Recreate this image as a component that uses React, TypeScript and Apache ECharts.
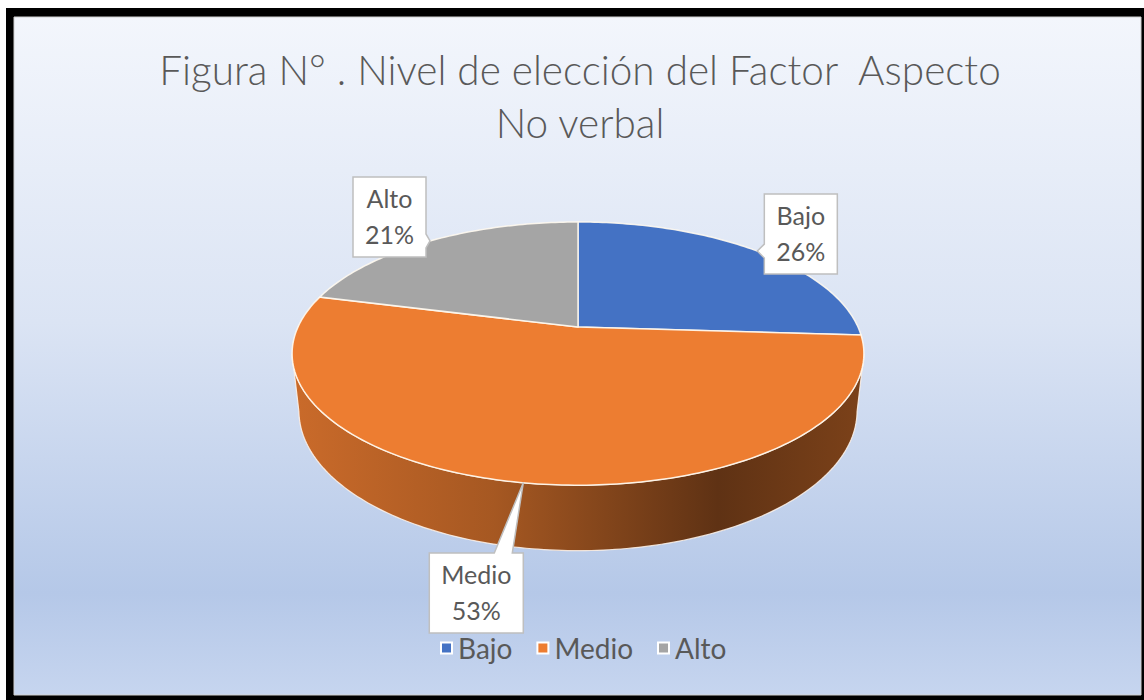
import React, { useEffect, useRef } from "react";
import * as echarts from "echarts";

// ---------- data ----------
const categories = ["Bajo", "Medio", "Alto"];
const percentages = [26, 53, 21];
const sliceColors = ["#4472C4", "#ED7D31", "#A5A5A5"];
const titleLines = ["Figura N° . Nivel de elección del Factor  Aspecto", "No verbal"];

// ---------- 3D pie geometry (layout) ----------
const CX = 578;
const CY = 327;
const HALF_WIDTH = 280; // px of radius at centre depth
const DIST = 4.42; // camera distance in radius units
const TILT = (26.8 * Math.PI) / 180;
const THICK = 0.23; // pie thickness in radius units
const FONT = "Lato, 'Open Sans', sans-serif";
const TEXT_COLOR = "#595959";
const LABEL_SIZE = 25;

function project(thetaDeg: number, y: number): [number, number] {
  const t = (thetaDeg * Math.PI) / 180;
  const X = Math.sin(t);
  const Z = Math.cos(t);
  const ca = Math.cos(TILT);
  const sa = Math.sin(TILT);
  const yc = y * ca + Z * sa;
  const zc = -y * sa + Z * ca + DIST;
  const k = HALF_WIDTH * DIST;
  return [CX + (k * X) / zc, CY - (k * yc) / zc];
}

function silhouette(): [number, number] {
  let maxX = -Infinity;
  let minX = Infinity;
  let s1 = 90;
  let s2 = 270;
  for (let t = 0; t <= 360; t += 0.25) {
    const [x] = project(t, 0);
    if (x > maxX) {
      maxX = x;
      s1 = t;
    }
    if (x < minX) {
      minX = x;
      s2 = t;
    }
  }
  return [s1, s2];
}

function shade(hex: string, f: number): string {
  const n = parseInt(hex.slice(1), 16);
  const r = Math.round(((n >> 16) & 255) * f);
  const g = Math.round(((n >> 8) & 255) * f);
  const b = Math.round((n & 255) * f);
  return `rgb(${r},${g},${b})`;
}

function clamp(v: number, a: number, b: number) {
  return Math.max(a, Math.min(b, v));
}

let measureCtx: CanvasRenderingContext2D | null = null;
function textWidth(s: string, size: number): number {
  if (!measureCtx) measureCtx = document.createElement("canvas").getContext("2d");
  if (!measureCtx) return s.length * size * 0.5;
  measureCtx.font = `${size}px ${FONT}`;
  return measureCtx.measureText(s).width;
}

function callout(
  x0: number,
  y0: number,
  w: number,
  h: number,
  tip: [number, number],
  side: "left" | "right" | "top"
): number[][] {
  const x1 = x0 + w;
  const y1 = y0 + h;
  if (side === "left") {
    const c = clamp(tip[1], y0 + 10, y1 - 10);
    return [[x0, y0], [x1, y0], [x1, y1], [x0, y1], [x0, c + 7], tip, [x0, c - 7]];
  }
  if (side === "right") {
    const c = clamp(tip[1], y0 + 10, y1 - 10);
    return [[x0, y0], [x1, y0], [x1, c - 7], tip, [x1, c + 7], [x1, y1], [x0, y1]];
  }
  const c = clamp(tip[0] - 20, x0 + 12, x1 - 12);
  return [[x0, y0], [c - 9, y0], tip, [c + 9, y0], [x1, y0], [x1, y1], [x0, y1]];
}

export default function App() {
  const ref = useRef<HTMLDivElement>(null);

  useEffect(() => {
    document.body.style.margin = "0";
    if (!ref.current) return;
    const chart = echarts.init(ref.current, undefined, { renderer: "svg" });

    const total = percentages.reduce((a, b) => a + b, 0);
    const starts: number[] = [];
    let acc = 0;
    percentages.forEach((v) => {
      starts.push((acc / total) * 360);
      acc += v;
    });
    const [s1, s2] = silhouette();

    const makeRender = (idx: number) => (params: any, api: any) => {
      const value = api.value(0);
      const a = starts[idx];
      const b = a + (value / total) * 360;
      const color = sliceColors[idx];
      const children: any[] = [];

      // top face
      const top: number[][] = [[CX, CY]];
      for (let t = a; t < b; t += 1) top.push(project(t, 0));
      top.push(project(b, 0));
      children.push({
        type: "polygon",
        z2: 10,
        shape: { points: top },
        style: { fill: color, stroke: "rgba(255,250,240,0.9)", lineWidth: 1.5 },
      });

      // outer wall (visible part)
      const wa = Math.max(a, s1);
      const wb = Math.min(b, s2);
      if (wb > wa) {
        const upper: number[][] = [];
        const lower: number[][] = [];
        for (let t = wa; t < wb; t += 1) {
          upper.push(project(t, 0));
          lower.push(project(t, -THICK));
        }
        upper.push(project(wb, 0));
        lower.push(project(wb, -THICK));
        children.push({
          type: "polygon",
          z2: 1,
          shape: { points: upper.concat(lower.reverse()) },
          style: {
            fill: {
              type: "linear",
              global: true,
              x: CX - HALF_WIDTH,
              y: 0,
              x2: CX + HALF_WIDTH,
              y2: 0,
              colorStops: [
                { offset: 0, color: shade(color, 0.85) },
                { offset: 0.35, color: shade(color, 0.7) },
                { offset: 0.75, color: shade(color, 0.4) },
                { offset: 1, color: shade(color, 0.52) },
              ],
            },
            stroke: "rgba(255,245,235,0.85)",
            lineWidth: 1.2,
          },
        });
      }

      // callout label
      const mid = (a + b) / 2;
      const tip = project(mid, 0);
      const lines = [categories[idx], `${value}%`];
      const tw = Math.max(...lines.map((s) => textWidth(s, LABEL_SIZE)));
      const w = Math.round(tw + 24);
      const h = 80;
      const Z = Math.cos((mid * Math.PI) / 180);
      const X = Math.sin((mid * Math.PI) / 180);
      let x0: number;
      let y0: number;
      let side: "left" | "right" | "top";
      if (Z < -0.5) {
        const bottom = project(mid, -THICK);
        x0 = tip[0] - w;
        y0 = bottom[1] + 5;
        side = "top";
      } else if (X > 0) {
        x0 = tip[0] + 7;
        y0 = tip[1] - 57;
        side = "left";
      } else {
        x0 = tip[0] - 4 - w;
        y0 = tip[1] - 64;
        side = "right";
      }
      children.push({
        type: "polygon",
        z2: 20,
        shape: { points: callout(x0, y0, w, h, tip, side) },
        style: { fill: "#ffffff", stroke: "#bfbfbf", lineWidth: 1.5 },
      });
      lines.forEach((s, i) => {
        children.push({
          type: "text",
          z2: 21,
          style: {
            text: s,
            x: x0 + w / 2,
            y: y0 + 21 + i * 36,
            align: "center",
            verticalAlign: "middle",
            fontSize: LABEL_SIZE,
            fontFamily: FONT,
            fill: TEXT_COLOR,
          },
        });
      });

      return { type: "group", children };
    };

    chart.setOption({
      animation: false,
      graphic: [
        { type: "rect", shape: { x: 0, y: 0, width: 1144, height: 700 }, style: { fill: "#ffffff" }, z: -20 },
        { type: "rect", shape: { x: 6, y: 8, width: 1138, height: 692 }, style: { fill: "#000000" }, z: -19 },
        {
          type: "rect",
          shape: { x: 14, y: 17, width: 1127, height: 678 },
          z: -18,
          style: {
            fill: {
              type: "linear",
              x: 0,
              y: 0,
              x2: 0,
              y2: 1,
              colorStops: [
                { offset: 0, color: "#f3f6fc" },
                { offset: 0.45, color: "#dbe4f4" },
                { offset: 0.85, color: "#b5c8e8" },
                { offset: 1, color: "#c6d5ef" },
              ],
            },
            stroke: "#d0d0d0",
            lineWidth: 1,
          },
        },
      ],
      title: {
        text: titleLines.join("\n"),
        left: 580,
        textAlign: "center",
        top: 43,
        padding: 0,
        textStyle: {
          fontFamily: FONT,
          fontSize: 40.5,
          fontWeight: 300,
          color: TEXT_COLOR,
          lineHeight: 53,
        },
      },
      legend: {
        top: 629,
        left: 435,
        padding: 5,
        itemWidth: 11,
        itemHeight: 11,
        itemGap: 24,
        icon: "rect",
        itemStyle: { borderColor: "#ffffff", borderWidth: 2 },
        textStyle: { fontFamily: FONT, fontSize: 28, color: TEXT_COLOR, padding: [0, 0, 0, 1] },
        data: categories,
      },
      series: categories.map((name, i) => ({
        type: "custom",
        name,
        coordinateSystem: "none",
        itemStyle: { color: sliceColors[i] },
        data: [percentages[i]],
        renderItem: makeRender(i),
      })),
    });

    return () => chart.dispose();
  }, []);

  return <div ref={ref} style={{ width: 1144, height: 700 }} />;
}
